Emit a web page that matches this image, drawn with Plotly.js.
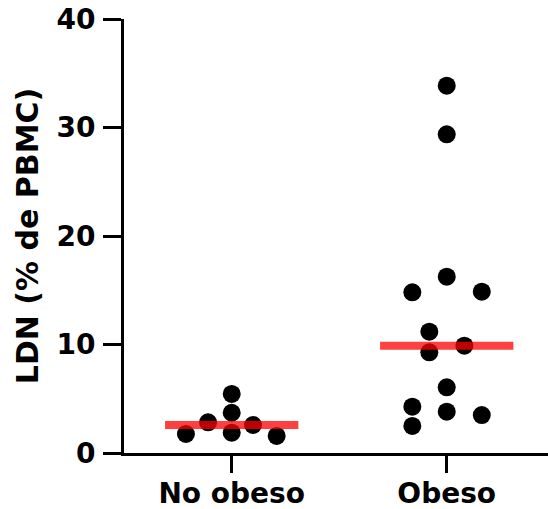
<!DOCTYPE html>
<html>
<head>
<meta charset="utf-8">
<script src="https://cdn.plot.ly/plotly-3.0.1.min.js"></script>
<style>html,body{margin:0;padding:0;background:#fff;}#chart{width:548px;height:509px;}</style>
</head>
<body>
<div id="chart"></div>
<script>
// Categories
const categories = ["No obeso", "Obeso"];
// Values (LDN % de PBMC)
const noObesoValues = [1.75, 2.83, 5.44, 3.71, 1.87, 2.58, 1.57];
const obesoValues = [33.85, 29.37, 16.25, 14.81, 14.87, 11.18, 9.28, 9.89, 6.05, 4.27, 3.81, 3.50, 2.49];
// Horizontal scatter (beeswarm) offsets within each category
const noObesoJitter = [-0.213, -0.110, 0, 0, 0, 0.099, 0.209];
const obesoJitter = [0, 0, 0, -0.160, 0.163, -0.081, -0.081, 0.082, 0, -0.160, 0, 0.163, -0.160];
// Tick labels
const yTicks = [0, 10, 20, 30, 40];

function median(a) {
  const s = a.slice().sort((p, q) => p - q);
  const n = s.length;
  return n % 2 ? s[(n - 1) / 2] : (s[n / 2 - 1] + s[n / 2]) / 2;
}

const groups = [noObesoValues, obesoValues];
const jitters = [noObesoJitter, obesoJitter];
const traces = [];

groups.forEach((vals, gi) => {
  traces.push({
    type: 'scatter', mode: 'markers',
    x: vals.map((v, i) => gi + jitters[gi][i]),
    y: vals,
    marker: {color: '#000', size: 18, line: {width: 0}},
    hoverinfo: 'y', showlegend: false
  });
});
groups.forEach((vals, gi) => {
  const m = median(vals);
  traces.push({
    type: 'scatter', mode: 'lines',
    x: [gi - 0.31, gi + 0.31],
    y: [m, m],
    line: {color: 'rgba(255,0,0,0.75)', width: 8},
    hoverinfo: 'skip', showlegend: false
  });
});

const fam = 'DejaVu Sans, Liberation Sans, Arial, sans-serif';
const tickFont = {family: fam, size: 28, color: '#000', weight: 'bold'};
const titleFont = {family: fam, size: 30, color: '#000', weight: 'bold'};

const layout = {
  width: 548, height: 509,
  margin: {l: 124, r: 0, t: 19, b: 56},
  paper_bgcolor: '#fff', plot_bgcolor: '#fff',
  showlegend: false,
  xaxis: {
    range: [-0.501, 1.471],
    tickmode: 'array', tickvals: [0, 1], ticktext: categories,
    ticks: 'outside', ticklen: 17, tickwidth: 3, tickcolor: '#000',
    showline: true, linewidth: 3, linecolor: '#000',
    showgrid: false, zeroline: false,
    tickfont: tickFont, ticklabelstandoff: -4, fixedrange: true
  },
  yaxis: {
    range: [0, 40],
    tickmode: 'array', tickvals: yTicks, ticktext: yTicks.map(String),
    ticks: 'outside', ticklen: 18, tickwidth: 3, tickcolor: '#000',
    showline: true, linewidth: 3, linecolor: '#000',
    showgrid: false, zeroline: false,
    tickfont: tickFont, ticklabelstandoff: 2,
    title: {text: 'LDN (% de PBMC)', font: titleFont, standoff: 9},
    fixedrange: true
  }
};

Plotly.newPlot('chart', traces, layout, {displayModeBar: false, staticPlot: true});
</script>
</body>
</html>
